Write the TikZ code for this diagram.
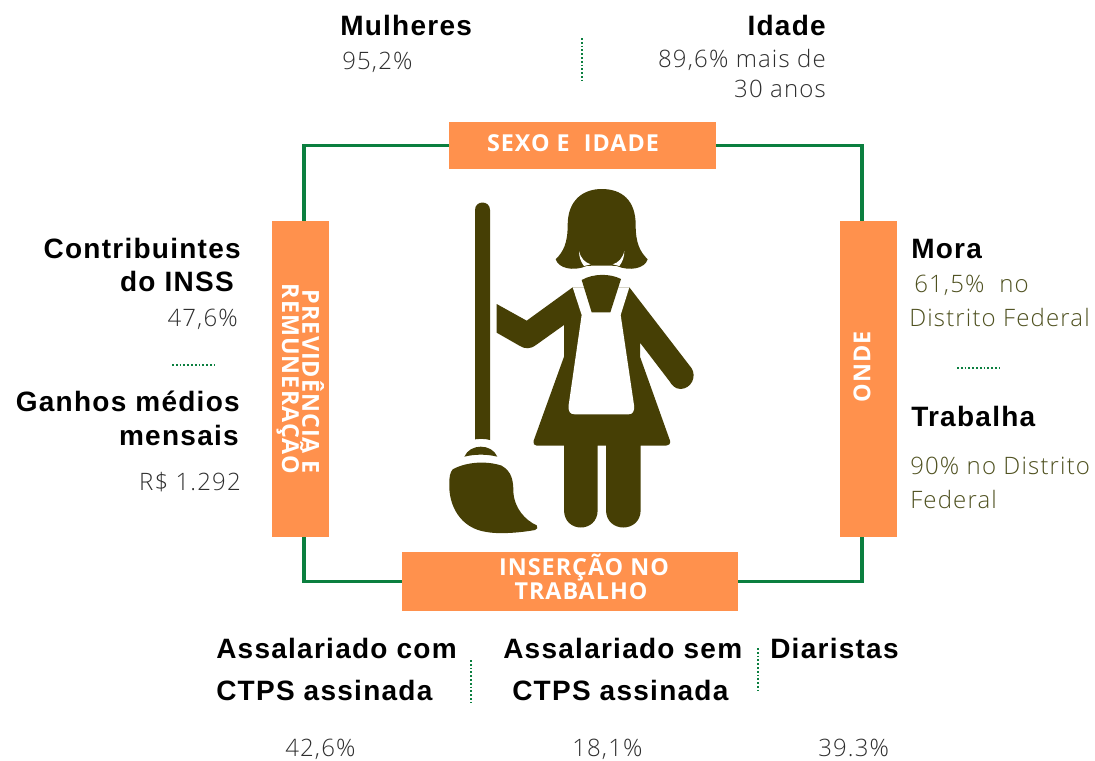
\documentclass[tikz,border=0pt]{standalone}
\usepackage{fontspec}
\setmainfont{Open Sans}
\newfontfamily\lightf[LetterSpace=4.8]{Open Sans Light}
\newfontfamily\headf[LetterSpace=4.5]{Liberation Sans}
\newfontfamily\boxf[LetterSpace=4.3]{Open Sans}
\definecolor{orangebox}{HTML}{FF914D}
\definecolor{framegreen}{HTML}{0B7F3F}
\definecolor{darkolive}{HTML}{463F05}
\definecolor{olivetext}{HTML}{4F5120}
\definecolor{bodygrey}{HTML}{2E2E2E}
\tikzset{
 box/.style={fill=orangebox,draw=none,inner sep=0pt,minimum width=#1},
 head/.style={inner sep=0pt,font=\fontsize{21pt}{24pt}\headf\bfseries,text=black},
 val/.style={inner sep=0pt,font=\fontsize{18pt}{22pt}\lightf,text=bodygrey},
 oval/.style={inner sep=0pt,font=\fontsize{18pt}{22pt}\lightf,text=olivetext},
 boxt/.style={inner sep=0pt,font=\fontsize{17.5pt}{20pt}\boxf\bfseries,text=white},
 frameline/.style={draw=framegreen,line width=2.4pt},
 sep/.style={draw=framegreen,line width=1.8pt,dash pattern=on 1.4pt off 1.45pt},
 ink/.style={fill=darkolive,draw=none},
 gap/.style={fill=white,draw=none},
}
\begin{document}
\begin{tikzpicture}[x=0.75pt,y=-0.75pt]
\useasboundingbox (0,0) rectangle (1095,760);
% frame corners
\coordinate (c1) at (304,145.5);
\coordinate (c2) at (862,145.5);
\coordinate (c3) at (862,581.5);
\coordinate (c4) at (304,581.5);
% boxes
\node[box=267*0.75pt,minimum height=47*0.75pt,anchor=center] (top) at (582.5,145.5) {};
\node[box=57*0.75pt,minimum height=316*0.75pt] (left) at (300,379) {};
\node[box=57*0.75pt,minimum height=316*0.75pt] (right) at (868.5,379) {};
\node[box=336*0.75pt,minimum height=59*0.75pt] (bottom) at (570,581.5) {};
% frame
\draw[frameline] (top.west) -- (c1) -- (c1 |- left.north);
\draw[frameline] (top.east) -- (c2) -- (c2 |- right.north);
\draw[frameline] (bottom.east) -- (c3) -- (c3 |- right.south);
\draw[frameline] (bottom.west) -- (c4) -- (c4 |- left.south);
% box labels
\node[boxt,anchor=base] (t1) at (573,151) {SEXO E\ \ IDADE};
\node[boxt,anchor=base] (t2) at (584,575) {INSERÇÃO NO};
\node[boxt,anchor=base] (t3) at (581,599) {TRABALHO};
\node[boxt,rotate=90,anchor=center] (t4) at (862,367) {ONDE};
\node[boxt,rotate=-90,anchor=center] (t5) at (313,382) {PREVIDÊNCIA E};
\node[boxt,rotate=-90,anchor=center] (t6) at (290,379) {REMUNERAÇÃO};
% figure
\begin{scope}[shift={(430,180)},x=0.25pt,y=-0.25pt]
 % broom stick
 \fill[ink] (135,90) .. controls (135,60) and (180,60) .. (180,90) -- (180,780) .. controls (165,776) and (150,776) .. (135,778) -- cycle;
 \fill[ink] (103,830) .. controls (120,790) and (185,790) .. (202,830) .. controls (170,822) and (135,822) .. (103,830) -- cycle;
 \fill[ink] (68,868) .. controls (110,845) and (170,842) .. (215,857) .. controls (245,875) and (250,900) .. (250,935) .. controls (253,985) and (285,1020) .. (320,1036) .. controls (325,1042) and (322,1048) .. (315,1050) .. controls (260,1060) and (200,1062) .. (170,1056) .. controls (90,1045) and (55,975) .. (58,910) .. controls (58,890) and (60,878) .. (68,868) -- cycle;
 % hair and head
 \fill[ink] (413,135) .. controls (413,60) and (460,27) .. (515,27) .. controls (575,27) and (617,60) .. (617,135) .. controls (617,190) and (630,215) .. (653,238) .. controls (645,265) and (600,275) .. (560,258) .. controls (535,256) and (495,256) .. (470,258) .. controls (430,275) and (385,265) .. (377,238) .. controls (400,215) and (413,190) .. (413,135) -- cycle;
 \fill[gap] (447,213) .. controls (452,235) and (465,248) .. (482,253) -- (462,258) .. controls (452,245) and (447,230) .. (447,213) -- cycle;
 \fill[gap] (583,213) .. controls (578,235) and (565,248) .. (548,253) -- (568,258) .. controls (578,245) and (583,230) .. (583,213) -- cycle;
 % body
 \fill[ink] (200,372) -- (290,422) -- (428,322) -- (598,322) -- (785,565)
   .. controls (800,590) and (785,625) .. (752,627) .. controls (735,627) and (725,615) .. (718,603)
   -- (630,488) -- (630,530) -- (720,782) .. controls (722,792) and (716,797) .. (708,797)
   -- (632,797) -- (632,990) .. controls (632,1060) and (528,1060) .. (528,990)
   -- (528,797) -- (503,797) -- (503,990) .. controls (503,1060) and (402,1060) .. (402,990)
   -- (402,797) -- (320,797) .. controls (312,797) and (308,790) .. (311,782)
   -- (402,530) -- (402,435) -- (318,495) .. controls (300,508) and (285,507) .. (270,498)
   -- (200,458) -- cycle;
 % apron
 \fill[gap] (428,322) -- (455,405) -- (416,675) .. controls (414,695) and (420,703) .. (435,703)
   -- (595,703) .. controls (608,703) and (614,695) .. (612,675) -- (572,405) -- (598,322) -- cycle;
 \fill[ink] (455,300) .. controls (490,280) and (540,280) .. (573,297) -- (541,397) -- (485,397) -- cycle;
\end{scope}
% separators
\coordinate (s1a) at (582,38); \coordinate (s1b) at (582,80);
\coordinate (s2a) at (172,365); \coordinate (s2b) at (214,365);
\coordinate (s3a) at (957,368); \coordinate (s3b) at (999,368);
\coordinate (s4a) at (471,660); \coordinate (s4b) at (471,702);
\coordinate (s5a) at (758,648); \coordinate (s5b) at (758,690);
\draw[sep] (s1a) -- (s1b);
\draw[sep] (s2a) -- (s2b);
\draw[sep] (s3a) -- (s3b);
\draw[sep] (s4a) -- (s4b);
\draw[sep] (s5a) -- (s5b);
% texts
\node[head,anchor=base west] (a1) at (340,36) {Mulheres};
\node[val,anchor=base west] (a2) at (342,69) {95,2\%};
\node[head,anchor=base east] (a3) at (826,36) {Idade};
\node[val,anchor=base east] (a4) at (826,67) {89,6\% mais de};
\node[val,anchor=base east] (a5) at (826,97) {30 anos};
\node[head,anchor=base east] (b1) at (241,258) {Contribuintes};
\node[head,anchor=base east] (b2) at (234,291) {do INSS};
\node[val,anchor=base east] (b3) at (238,326) {47,6\%};
\node[head,anchor=base east] (b4) at (240,411) {Ganhos médios};
\node[head,anchor=base east] (b5) at (239,445) {mensais};
\node[val,anchor=base east] (b6) at (241,490) {R\$ 1.292};
\node[head,anchor=base west] (c1t) at (911,258) {Mora};
\node[oval,anchor=base west] (c2t) at (914,292) {61,5\%\ \ no};
\node[oval,anchor=base west] (c3t) at (909,326) {Distrito Federal};
\node[head,anchor=base west] (c4t) at (911,426) {Trabalha};
\node[oval,anchor=base west] (c5t) at (910,474) {90\% no Distrito};
\node[oval,anchor=base west] (c6t) at (910,508) {Federal};
\node[head,anchor=base west] (d1) at (216,658) {Assalariado com};
\node[head,anchor=base west] (d2) at (216,700) {CTPS assinada};
\node[head,anchor=base west] (d3) at (503,658) {Assalariado sem};
\node[head,anchor=base west] (d4) at (512,700) {CTPS assinada};
\node[head,anchor=base west] (d5) at (770,658) {Diaristas};
\node[val,anchor=base west] (e1) at (285,756) {42,6\%};
\node[val,anchor=base west] (e2) at (572,756) {18,1\%};
\node[val,anchor=base west] (e3) at (818,756) {39.3\%};
\end{tikzpicture}
\end{document}
